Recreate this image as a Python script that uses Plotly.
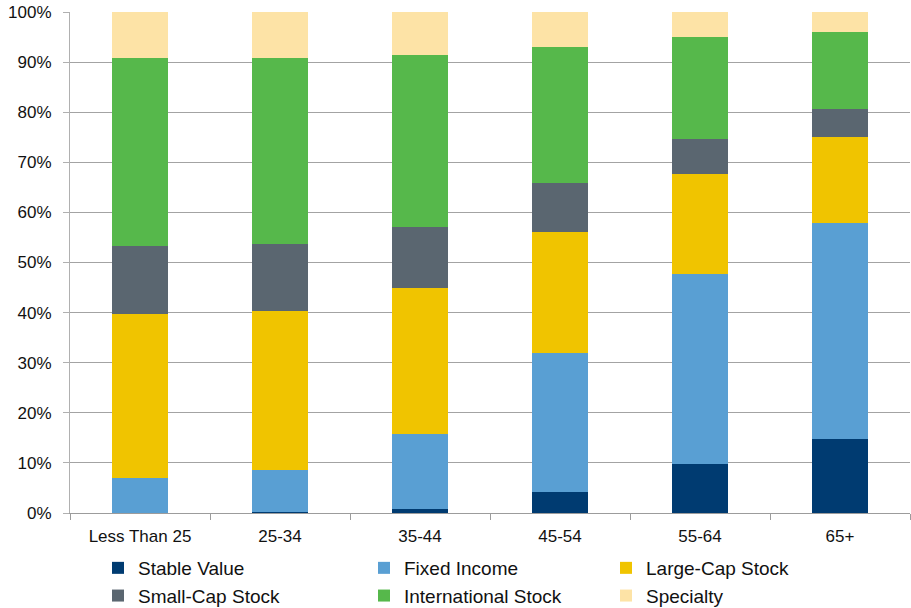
import plotly.graph_objects as go

# Age groups and asset allocation shares (percent of balance)
age_groups = ["Less Than 25", "25-34", "35-44", "45-54", "55-64", "65+"]

stable_value = [0.0, 0.3, 0.8, 4.25, 9.7, 14.8]
fixed_income = [7.0, 8.3, 14.9, 27.65, 38.0, 43.1]
large_cap = [32.7, 31.8, 29.2, 24.2, 19.9, 17.2]
small_cap = [13.5, 13.35, 12.2, 9.7, 7.0, 5.5]
international = [37.6, 37.05, 34.4, 27.3, 20.4, 15.4]
specialty = [9.2, 9.2, 8.5, 6.9, 5.0, 4.0]

series = [
    ("Stable Value", stable_value, "#003B71", "legend"),
    ("Fixed Income", fixed_income, "#599FD3", "legend2"),
    ("Large-Cap Stock", large_cap, "#F0C400", "legend3"),
    ("Small-Cap Stock", small_cap, "#5A6670", "legend"),
    ("International Stock", international, "#56B84B", "legend2"),
    ("Specialty", specialty, "#FDE3A6", "legend3"),
]

fig = go.Figure()
for name, vals, color, lg in series:
    fig.add_trace(go.Bar(
        x=age_groups, y=vals, name=name,
        marker=dict(color=color, line=dict(width=0)),
        legend=lg,
    ))

# plot area spans 70..910 px horizontally and 12..513 px vertically
PX_L, PX_R, PX_T, PX_B = 70, 910, 12, 513


def px_x(p):
    return (p - PX_L) / (PX_R - PX_L)


def px_y(p):
    return (PX_B - p) / (PX_B - PX_T)


legend_common = dict(
    orientation="v", xref="paper", yref="paper",
    xanchor="left", yanchor="top",
    font=dict(family="Liberation Sans, Arial", size=19, color="#111111"),
    traceorder="normal", bgcolor="rgba(0,0,0,0)", borderwidth=0,
)

legend_top = px_y(549)

fig.update_layout(
    width=911, height=608,
    margin=dict(l=PX_L, r=911 - PX_R, t=PX_T, b=608 - PX_B, autoexpand=False),
    barmode="stack", bargap=0.6,
    plot_bgcolor="white", paper_bgcolor="white",
    font=dict(family="Liberation Sans, Arial", size=17, color="#111111"),
    legend=dict(x=px_x(98), y=legend_top, **legend_common),
    legend2=dict(x=px_x(364), y=legend_top, **legend_common),
    legend3=dict(x=px_x(606), y=legend_top, **legend_common),
    xaxis=dict(
        showline=True, linecolor="#9c9c9c", linewidth=1,
        ticks="outside", tickson="boundaries", ticklen=6, tickcolor="#9c9c9c",
        showgrid=False, tickangle=0, ticklabelstandoff=8,
        tickfont=dict(size=17),
    ),
    yaxis=dict(
        range=[0, 100], dtick=10, ticksuffix="%",
        showline=True, linecolor="#b0b0b0", linewidth=1,
        ticks="outside", ticklen=6, tickcolor="#b0b0b0",
        showgrid=True, gridcolor="#a3a3a3", gridwidth=1,
        zeroline=False, tickfont=dict(size=17), ticklabelstandoff=8,
    ),
)

fig.write_html("out.html")
